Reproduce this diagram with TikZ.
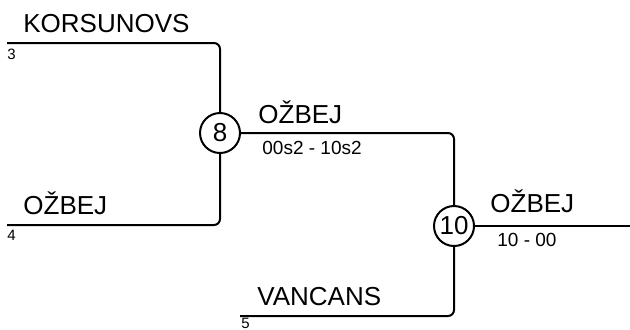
\documentclass[tikz,border=0pt]{standalone}
\usepackage{fontspec}
\setmainfont{Liberation Sans}
\usetikzlibrary{positioning}

\begin{document}
\begin{tikzpicture}[x=0.5pt, y=-0.5pt, every node/.style={inner sep=0pt}]
    % Styles
    \tikzstyle{game} = [circle, draw, line width=1pt, minimum size=20pt, font=\fontsize{13}{15}\selectfont]
    \tikzstyle{player} = [anchor=base west, font=\fontsize{13}{15}\selectfont]
    \tikzstyle{seed} = [anchor=north west, font=\fontsize{7.5}{9}\selectfont]
    \tikzstyle{score} = [anchor=base west, font=\fontsize{9.5}{11}\selectfont]
    \tikzstyle{bracket} = [line width=1pt, rounded corners=3pt]

    \useasboundingbox (0,0) rectangle (630,329);

    % Nodes
    \node[game] (g8) at (220,133) {8};
    \node[game] (g10) at (454,226) {10};

    \coordinate (s3) at (7,43);
    \coordinate (s4) at (7,225);
    \coordinate (s5) at (240,316);
    \coordinate (fin) at (630,226);

    % Labels
    \node[player] (korsunovs) at (23,32) {KORSUNOVS};
    \node[seed] (n3) at (7,49) {3};
    \node[player] (ozbej1) at (23,214) {OŽBEJ};
    \node[seed] (n4) at (7,230) {4};
    \node[player] (ozbej2) at (258,123) {OŽBEJ};
    \node[score] (sc8) at (262,154) {00s2 - 10s2};
    \node[player] (ozbej3) at (490,212) {OŽBEJ};
    \node[score] (sc10) at (497,246) {10 - 00};
    \node[player] (vancans) at (257,305) {VANCANS};
    \node[seed] (n5) at (241,318) {5};

    % Connections
    \draw[bracket] (s3) -| (g8.north);
    \draw[bracket] (s4) -| (g8.south);
    \draw[bracket] (g8.east) -| (g10.north);
    \draw[bracket] (s5) -| (g10.south);
    \draw[bracket] (g10.east) -- (fin);
\end{tikzpicture}
\end{document}
